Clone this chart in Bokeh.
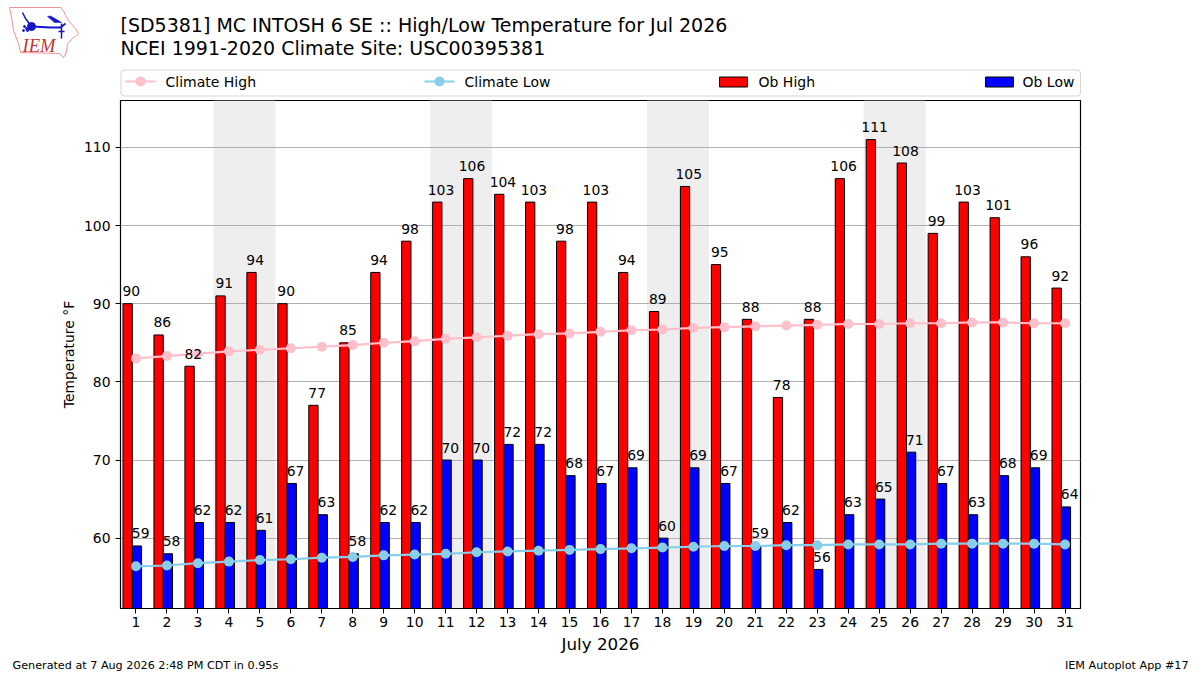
from bokeh.plotting import figure
from bokeh.layouts import column
from bokeh.models import ColumnDataSource, FixedTicker, Range1d
from bokeh.core.properties import value
from bokeh.embed import file_html
from bokeh.resources import INLINE

days = list(range(1, 32))
ob_high = [90,86,82,91,94,90,77,85,94,98,103,106,104,103,98,103,94,89,105,95,88,78,88,106,111,108,99,103,101,96,92]
ob_low = [59,58,62,62,61,67,63,58,62,62,70,70,72,72,68,67,69,60,69,67,59,62,56,63,65,71,67,63,68,69,64]
climate_high = [83.0,83.3,83.6,83.9,84.1,84.3,84.5,84.7,85.0,85.2,85.5,85.7,85.9,86.1,86.2,86.4,86.6,86.7,86.9,87.0,87.1,87.2,87.3,87.4,87.4,87.5,87.5,87.6,87.6,87.5,87.5]
climate_low = [56.4,56.5,56.8,57.0,57.2,57.3,57.5,57.6,57.8,57.9,58.0,58.2,58.3,58.4,58.5,58.6,58.7,58.8,58.9,59.0,59.0,59.1,59.1,59.2,59.2,59.2,59.3,59.3,59.3,59.3,59.2]
weekend_first = [4, 11, 18, 25]
y_ticks = [60, 70, 80, 90, 100, 110]
title_1 = "[SD5381] MC INTOSH 6 SE :: High/Low Temperature for Jul 2026"
title_2 = "NCEI 1991-2020 Climate Site: USC00395381"
footer_l = "Generated at 7 Aug 2026 2:48 PM CDT in 0.95s"
footer_r = "IEM Autoplot App #17"

FONT = "DejaVu Sans"
W = 1200
HEAD_H, MAIN_H, FOOT_H = 99, 557, 19

def blank(height, y_top):
    f = figure(width=W, height=height, output_backend="svg", toolbar_location=None,
               x_range=Range1d(0, W), y_range=Range1d(y_top + height, y_top),
               min_border=0, min_border_left=0, min_border_right=0, min_border_top=0, min_border_bottom=0,
               x_axis_type=None, y_axis_type=None, background_fill_color="white", border_fill_color="white",
               frame_align=False)
    f.outline_line_color = None
    f.grid.visible = False
    return f

def txt(f, s, x, y, size, align="left", font=FONT, style="normal", color="black"):
    f.text(x=[x], y=[y], text=[s], text_align=align, text_baseline="middle", text_font=value(font),
           text_font_size=size, text_font_style=style, text_color=color)

head = blank(HEAD_H, 0)
txt(head, title_1, 120, 24.5, "19px")
txt(head, title_2, 120, 47.5, "19px")
# logo
head.patch([9,60,63,65,68,74,78,72,67,66,63,59,20,18,13,11,9], [7,7,10,15,20,27,33,38,43,52,57,53,52,43,30,17,7],
           fill_alpha=0, line_color="#f09090", line_width=1)
BLUE = "#1414c8"
head.line([22,25,31], [12,18,26], line_color=BLUE, line_width=1.5)
head.line([31,50,60,65], [26,27,27,23], line_color=BLUE, line_width=1.8)
head.scatter([31], [26], size=8, fill_color=BLUE, line_color=BLUE)
head.patch([47,50,58,61,54], [16,15.5,20,22,22], fill_color=BLUE, line_color=BLUE, line_width=0.5)
head.line([61,61], [23,38], line_color=BLUE, line_width=1.5)
head.line([58,64], [31,31], line_color=BLUE, line_width=1.5)
head.scatter([24,26,23,27], [26,28,30,30], size=2, fill_color=BLUE, line_color=BLUE)
txt(head, "IEM", 22, 45, "18.5px", font="Liberation Serif", style="italic", color="#cc3333")
# legend
head.quad(left=[120.5], right=[1080], top=[69.5], bottom=[95.5], fill_color="white", line_color="#d5d5d5", line_width=1, border_radius=3)
for x0, color, s, tx in ((125, "pink", "Climate High", 165), (424, "skyblue", "Climate Low", 464)):
    head.line([x0, x0 + 30], [81, 81], line_color=color, line_width=2)
    head.scatter([x0 + 15], [81], size=10, fill_color=color, line_color=None)
    txt(head, s, tx, 81.5, "14px")
for x0, color, s, tx in ((719, "red", "Ob High", 758), (985, "blue", "Ob Low", 1022)):
    head.quad(left=[x0], right=[x0 + 28], top=[76.5], bottom=[86.5], fill_color=color, line_color="black", line_width=1)
    txt(head, s, tx, 81.5, "14px")

p = figure(width=W, height=MAIN_H, output_backend="svg", toolbar_location=None,
           x_range=Range1d(0.5, 31.5), y_range=Range1d(51, 116),
           min_border_left=120, min_border_right=120, min_border_top=1, min_border_bottom=48,
           background_fill_color="white", border_fill_color="white", frame_align=False)
p.outline_line_color = "black"
p.outline_line_width = 1.2
p.xgrid.visible = False
p.ygrid.grid_line_color = "#b0b0b0"
p.ygrid.grid_line_width = 1
p.xaxis.ticker = FixedTicker(ticks=days)
p.yaxis.ticker = FixedTicker(ticks=y_ticks)
for ax in (p.xaxis[0], p.yaxis[0]):
    ax.major_label_text_font = FONT
    ax.major_label_text_font_size = "13.9px"
    ax.major_label_text_color = "black"
    ax.axis_label_text_font = FONT
    ax.axis_label_text_font_style = "normal"
    ax.axis_label_text_color = "black"
    ax.major_tick_in = 0
    ax.major_tick_out = 5
    ax.minor_tick_line_color = None
    ax.axis_line_color = "black"
    ax.major_tick_line_color = "black"
p.xaxis.axis_label = "July 2026"
p.xaxis.axis_label_text_font_size = "16.7px"
p.xaxis.major_label_standoff = 3
p.xaxis.axis_label_standoff = 4
p.yaxis.axis_label = "Temperature °F"
p.yaxis.axis_label_text_font_size = "13.9px"
p.yaxis.axis_label_standoff = 4

p.quad(left=[d - 0.5 for d in weekend_first], right=[d + 1.5 for d in weekend_first],
       bottom=51, top=116, fill_color="#eeeeee", line_color=None, level="image")

src = ColumnDataSource(dict(
    high_x=[d - 0.27 for d in days], low_x=[d + 0.03 for d in days],
    high_lx=[d - 0.15 for d in days], low_lx=[d + 0.15 for d in days],
    high=ob_high, low=ob_low, chigh=climate_high, clow=climate_low, day=days,
    high_s=[str(v) for v in ob_high], low_s=[str(v) for v in ob_low]))
p.vbar(x="high_x", width=0.3, bottom=0, top="high", source=src, fill_color="red", line_color="black", line_width=1)
p.vbar(x="low_x", width=0.3, bottom=0, top="low", source=src, fill_color="blue", line_color="black", line_width=1)
p.line("day", "chigh", source=src, line_color="pink", line_width=2.2)
p.scatter("day", "chigh", source=src, size=10, fill_color="pink", line_color=None)
p.line("day", "clow", source=src, line_color="skyblue", line_width=2.2)
p.scatter("day", "clow", source=src, size=10, fill_color="skyblue", line_color=None)
for xf, yf, tf in (("high_lx", "high", "high_s"), ("low_lx", "low", "low_s")):
    p.text(xf, yf, text=tf, source=src, text_align="center", text_baseline="middle", y_offset=-12.5,
           text_font=value(FONT), text_font_size="13.9px", text_color="black")

foot = blank(FOOT_H, 656)
txt(foot, footer_l, 12, 665, "11.2px")
txt(foot, footer_r, 1188, 665, "11.2px", align="right")

page = column(head, p, foot, spacing=0)
open("out.html", "w").write(file_html(page, INLINE))
